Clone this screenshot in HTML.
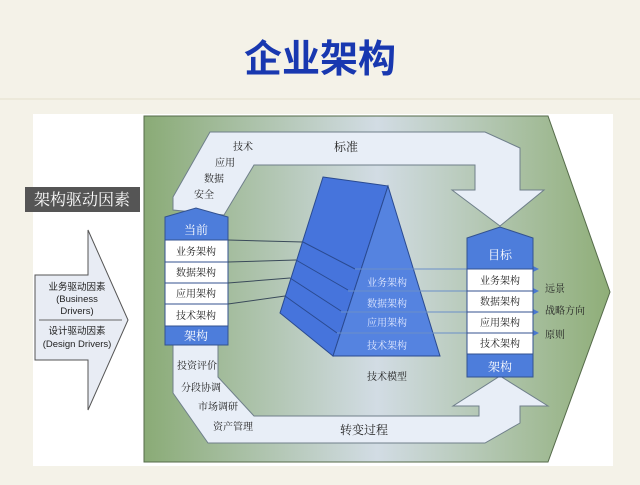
<!DOCTYPE html>
<html><head><meta charset="utf-8"><style>
body{margin:0;width:640px;height:480px;overflow:hidden;background:#f4f2e8}
svg text{font-family:"Liberation Serif","Noto Serif CJK SC","Noto Sans CJK SC",serif}
svg text.sans{font-family:"Liberation Sans","Noto Sans CJK SC",sans-serif}
</style></head><body>
<svg width="640" height="480" viewBox="0 0 640 480" xmlns="http://www.w3.org/2000/svg">
<defs>
<linearGradient id="g" x1="0" x2="1" y1="0" y2="0">
<stop offset="0" stop-color="#8aab76"/><stop offset="0.5" stop-color="#d2dce4"/><stop offset="1" stop-color="#8fae78"/>
</linearGradient>
<marker id="ah" markerWidth="8" markerHeight="8" refX="7" refY="4" orient="auto" markerUnits="userSpaceOnUse"><path d="M0,0 L8,4 L0,8z" fill="#4a78d0"/></marker>
</defs>
<rect width="640" height="480" fill="#f4f2e8"/>
<line x1="0" y1="99" x2="640" y2="99" stroke="#e4e0cc" stroke-width="1"/>
<text x="320" y="72" text-anchor="middle" font-size="38" font-weight="bold" fill="#1838b0" class="sans">企业架构</text>
<rect x="33" y="114" width="580" height="352" fill="#ffffff"/>
<polygon points="144,116 548,116 610,292 548,462 144,462" fill="url(#g)" stroke="#556b4a" stroke-width="1"/>
<polygon points="173,210 173,197 210,132 485,132 520,148 520,190 544,190 500,226 452,190 475,190 475,165 254,165 224,215" fill="#e8eef7" stroke="#6f7f8a" stroke-width="1"/>
<polygon points="173,345 173,393 208,443 485,443 520,423 520,406 548,406 500,376 453,406 479,406 479,416 254,416 218,377 218,345" fill="#e8eef7" stroke="#6f7f8a" stroke-width="1"/>
<g font-size="10" fill="#222">
<text x="233" y="150">技术</text><text x="215" y="166">应用</text><text x="204" y="182">数据</text><text x="194" y="198">安全</text>
<text x="334" y="151" font-size="12">标准</text>
<text x="177" y="369">投资评价</text><text x="181" y="391">分段协调</text><text x="198" y="410">市场调研</text><text x="213" y="430">资产管理</text>
<text x="340" y="434" font-size="12">转变过程</text>
<text x="367" y="380">技术模型</text>
<text x="545" y="292">远景</text><text x="545" y="314">战略方向</text><text x="545" y="338">原则</text>
</g>
<polygon points="165,217 196,208 228,217 228,240 165,240" fill="#4d7ddb" stroke="#33528f"/>
<rect x="165" y="240" width="63" height="86" fill="#fff" stroke="#33528f"/>
<line x1="165" y1="262" x2="228" y2="262" stroke="#33528f"/><line x1="165" y1="283" x2="228" y2="283" stroke="#33528f"/><line x1="165" y1="304" x2="228" y2="304" stroke="#33528f"/>
<rect x="165" y="326" width="63" height="19" fill="#4d7ddb" stroke="#33528f"/>
<g font-size="10" fill="#222" text-anchor="middle">
<text x="196" y="255">业务架构</text><text x="196" y="276">数据架构</text><text x="196" y="297">应用架构</text><text x="196" y="319">技术架构</text>
</g>
<text x="196" y="234" font-size="12" fill="#fff" text-anchor="middle">当前</text>
<text x="196" y="340" font-size="12" fill="#fff" text-anchor="middle">架构</text>
<g stroke="#3a4a5a" stroke-width="1">
<line x1="228" y1="240" x2="303" y2="242"/><line x1="228" y1="262" x2="296" y2="260"/><line x1="228" y1="283" x2="290" y2="278"/><line x1="228" y1="304" x2="285" y2="296"/>
</g>
<polygon points="323,177 388,186 333,356 280,313" fill="#4674dc" stroke="#2a4a90"/>
<polygon points="388,186 440,356 333,356" fill="#5583e0" stroke="#2a4a90"/>
<g stroke="#2a4a90" stroke-width="1">
<line x1="303" y1="242" x2="355" y2="269"/><line x1="296" y1="260" x2="348" y2="290"/><line x1="290" y1="278" x2="341" y2="311"/><line x1="285" y1="296" x2="337" y2="333"/>
</g>
<g stroke="#6a8fc8" stroke-width="1" marker-end="url(#ah)">
<line x1="355" y1="269" x2="538" y2="269"/><line x1="348" y1="291" x2="538" y2="291"/><line x1="341" y1="312" x2="538" y2="312"/><line x1="337" y1="333" x2="538" y2="333"/>
</g>
<g font-size="10" fill="#e0e8ff" text-anchor="middle">
<text x="387" y="286">业务架构</text><text x="387" y="307">数据架构</text><text x="387" y="326">应用架构</text><text x="387" y="349">技术架构</text>
</g>
<polygon points="467,238 500,227 533,238 533,269 467,269" fill="#4d7ddb" stroke="#33528f"/>
<rect x="467" y="269" width="66" height="85" fill="#fff" stroke="#33528f"/>
<line x1="467" y1="291" x2="533" y2="291" stroke="#33528f"/><line x1="467" y1="312" x2="533" y2="312" stroke="#33528f"/><line x1="467" y1="333" x2="533" y2="333" stroke="#33528f"/>
<rect x="467" y="354" width="66" height="23" fill="#4d7ddb" stroke="#33528f"/>
<g font-size="10" fill="#222" text-anchor="middle">
<text x="500" y="284">业务架构</text><text x="500" y="305">数据架构</text><text x="500" y="326">应用架构</text><text x="500" y="347">技术架构</text>
</g>
<text x="500" y="259" font-size="12" fill="#fff" text-anchor="middle">目标</text>
<text x="500" y="371" font-size="12" fill="#fff" text-anchor="middle">架构</text>
<rect x="25" y="187" width="115" height="25" fill="#555"/>
<text x="82" y="205" font-size="16" fill="#fff" text-anchor="middle">架构驱动因素</text>
<polygon points="35,275 88,275 88,230 128,320 88,410 88,360 35,360" fill="#e8ecf4" stroke="#555" stroke-width="1"/>
<line x1="39" y1="320" x2="122" y2="320" stroke="#666"/>
<g font-size="9.5" fill="#222" text-anchor="middle">
<text class="sans" x="77" y="290">业务驱动因素</text><text class="sans" x="77" y="302">(Business</text><text class="sans" x="77" y="314">Drivers)</text>
<text class="sans" x="77" y="334">设计驱动因素</text><text class="sans" x="77" y="347">(Design Drivers)</text>
</g>
</svg>
</body></html>
